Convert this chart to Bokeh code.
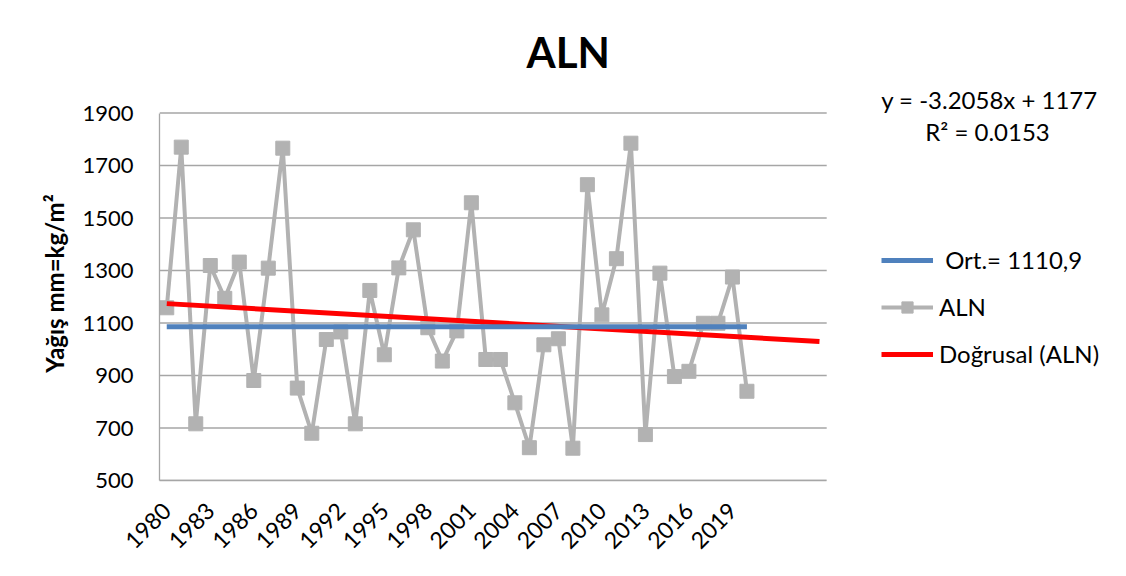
import math
from bokeh.plotting import figure
from bokeh.models import Range1d, FixedTicker, Label, Legend, LegendItem
from bokeh.embed import file_html
from bokeh.resources import INLINE

# ---------------- data ----------------
years = list(range(1980, 2021))
aln = [1158, 1770, 716, 1319, 1194, 1332, 881, 1309, 1766, 852,
       680, 1037, 1066, 716, 1224, 979, 1310, 1455, 1082, 955,
       1070, 1558, 961, 961, 796, 625, 1017, 1040, 623, 1627,
       1131, 1345, 1785, 675, 1290, 896, 916, 1099, 1099, 1275,
       840]
mean_years = [1980, 2020]
mean_vals = [1086, 1086]
trend_years = [1980, 2025]
trend_vals = [1173.8, 1029.5]   # y = -3.2058x + 1177, x = 1 .. 46
x_ticks = list(range(1980, 2020, 3))
y_ticks = [500, 700, 900, 1100, 1300, 1500, 1700, 1900]

title_text = "ALN"
y_label = "Yağış mm=kg/m²"
eq_text = "y = -3.2058x + 1177"
r2_text = "R² = 0.0153"
legend_labels = ["\u00a0Ort.= 1110,9", "ALN", "Doğrusal (ALN)"]

FONT = "Lato"
W, H = 1110, 560
# plot area (category axis 1979.5 .. 2025.5, value axis 500 .. 1900)
AX0, AX1 = 1979.5, 2025.5
AY0, AY1 = 500, 1900
PL, PR, PT, PB = 159.3, 826.3, 112.5, 480.0      # plot area in pixels
FT = 86                                            # frame top (room for equation)
xpp = (AX1 - AX0) / (PR - PL)
ypp = (AY1 - AY0) / (PB - PT)
X0, X1 = AX0, AX0 + (W - PL) * xpp
Y0, Y1 = AY0, AY0 + (PB - FT) * ypp


def px_x(px):
    return X0 + (px - PL) * xpp


def px_y(py):
    return Y0 + (PB - py) * ypp


p = figure(width=W, height=H, output_backend="svg", toolbar_location=None,
           x_range=Range1d(X0, X1), y_range=Range1d(Y0, Y1),
           min_border_left=159, min_border_right=0,
           min_border_top=FT, min_border_bottom=H - 480)
p.outline_line_color = None
p.background_fill_color = "white"
p.border_fill_color = "white"

p.title.text = title_text
p.title.text_font = FONT
p.title.text_font_size = "42px"
p.title.text_font_style = "bold"
p.title.text_color = "black"
p.title.align = "left"
p.title.offset = 367
p.title.standoff = 20

p.xgrid.visible = False
p.ygrid.visible = False
# horizontal gridlines limited to the plot area
p.segment(x0=[AX0] * len(y_ticks), y0=y_ticks, x1=[AX1] * len(y_ticks), y1=y_ticks,
          line_color="#a6a6a6", line_width=1.3)

p.yaxis.ticker = FixedTicker(ticks=y_ticks)
p.xaxis.ticker = FixedTicker(ticks=x_ticks)
p.yaxis.bounds = (AY0, AY1)
p.xaxis.bounds = (AX0, AX1)

for ax in (p.xaxis, p.yaxis):
    ax.axis_line_color = "#a6a6a6"
    ax.axis_line_width = 1.3
    ax.major_tick_line_color = None
    ax.minor_tick_line_color = None
    ax.major_tick_out = 0
    ax.major_tick_in = 0
    ax.minor_tick_out = 0
    ax.minor_tick_in = 0
    ax.major_label_text_font = FONT
    ax.major_label_text_font_size = "22px"
    ax.major_label_text_color = "black"

p.xaxis.major_label_text_font_size = "23px"
p.xaxis.major_label_orientation = math.pi / 4
p.xaxis.major_label_standoff = 26
p.yaxis.major_label_standoff = 26
p.yaxis.axis_label = y_label
p.yaxis.axis_label_text_font = FONT
p.yaxis.axis_label_text_font_size = "24px"
p.yaxis.axis_label_text_font_style = "bold"
p.yaxis.axis_label_text_color = "black"
p.yaxis.axis_label_standoff = 10

# ---------------- series ----------------
r_aln_line = p.line(years, aln, line_color="#b2b2b2", line_width=4)
r_aln_pts = p.scatter(years, aln, marker="square", size=14,
                      fill_color="#b2b2b2", line_color="#b2b2b2")
r_trend = p.line(trend_years, trend_vals, line_color="#ff0000", line_width=5)
r_mean = p.line(mean_years, mean_vals, line_color="#4f81bd", line_width=5)

legend = Legend(items=[
    LegendItem(label=legend_labels[0], renderers=[r_mean]),
    LegendItem(label=legend_labels[1], renderers=[r_aln_line, r_aln_pts]),
    LegendItem(label=legend_labels[2], renderers=[r_trend]),
], location=(722, 112), border_line_color=None, background_fill_alpha=0,
    padding=0, margin=0, spacing=18, glyph_width=52, glyph_height=28,
    label_height=28, label_standoff=6, label_text_font=FONT,
    label_text_font_size="24px", label_text_color="black")
p.add_layout(legend)

p.add_layout(Label(x=px_x(989), y=px_y(99), text=eq_text, text_align="center",
                   text_baseline="middle", text_font=FONT, text_font_size="24px",
                   text_color="black"))
p.add_layout(Label(x=px_x(987), y=px_y(131), text=r2_text, text_align="center",
                   text_baseline="middle", text_font=FONT, text_font_size="24px",
                   text_color="black"))

open("out.html", "w").write(file_html(p, INLINE))
